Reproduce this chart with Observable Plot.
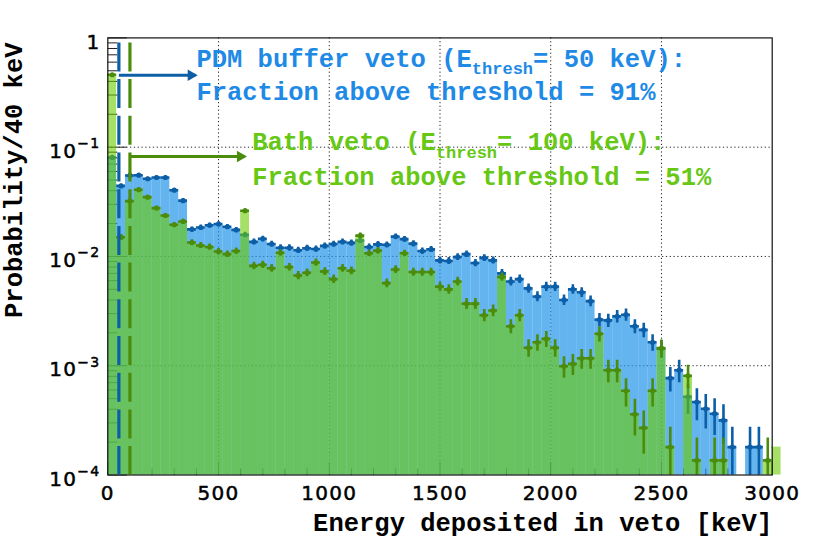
<!DOCTYPE html>
<html><head><meta charset="utf-8">
<script src="https://cdn.jsdelivr.net/npm/d3@7"></script>
<script src="https://cdn.jsdelivr.net/npm/@observablehq/plot@0.6"></script>
<style>body{margin:0;background:#fff}</style>
</head><body><div id="chart"></div>
<script>
// ---- data (probability per 40 keV bin, bin i covers [40*i, 40*(i+1)) keV) ----
const binWidth = 40;
const pdmBufferValues = [
  0.0805, 0.0442, 0.0551, 0.0554, 0.0514, 0.0528, 0.0528, 0.0404, 0.0324, 0.0177,
  0.0184, 0.0193, 0.0198, 0.0187, 0.0175, 0.0158, 0.0136, 0.0145, 0.0130, 0.0120,
  0.0120, 0.0114, 0.0119, 0.0117, 0.0125, 0.0130, 0.0136, 0.0133, 0.0140, 0.0122,
  0.0129, 0.0128, 0.0152, 0.0144, 0.0131, 0.0112, 0.0116, 0.0092, 0.0091, 0.0099,
  0.0105, 0.0087, 0.0097, 0.0092, 0.0070, 0.0059, 0.0062, 0.0051, 0.0043, 0.0053,
  0.0053, 0.0040, 0.0050, 0.0047, 0.0039, 0.00264, 0.0026, 0.00283, 0.00293, 0.0023,
  0.00213, 0.00164, 0.00143, 0.00077, 0.00091, 0.00052, 0.000465, 0.000404, 0.000364, 0.000316,
  0.00018, 0, 0.00018, 0.00018, 0, 0
];
const bathValues = [
  0.46, 0.0150, 0.0321, 0.0408, 0.0349, 0.0277, 0.0237, 0.0195, 0.0209, 0.0134,
  0.0126, 0.0122, 0.0111, 0.0105, 0.0112, 0.0262, 0.0082, 0.0084, 0.0078, 0.0108,
  0.0080, 0.0067, 0.0071, 0.0088, 0.0073, 0.0062, 0.0078, 0.0074, 0.0155, 0.0107,
  0.0113, 0.0057, 0.0076, 0.0107, 0.0072, 0.0072, 0.0072, 0.0053, 0.0050, 0.0059,
  0.0037, 0.0037, 0.0029, 0.0032, 0.0065, 0.0023, 0.0029, 0.00146, 0.00164, 0.00176,
  0.00146, 0.00099, 0.00104, 0.00117, 0.00117, 0.00196, 0.00091, 0.00091, 0.00059, 0.00036,
  0.00027, 0.00059, 0.00145, 0.00018, 0, 0.00081, 0.000136, 0, 0.000136, 0.000136,
  0, 0, 0, 0, 0.000136, 0.00018
];
const errScale = 0.007; // statistical error ~ errScale*sqrt(value)
const pdmThreshold = 50;
const bathThreshold = 100;
const xTickValues = [0, 500, 1000, 1500, 2000, 2500, 3000];
const xTickLabels = ["0", "500", "1000", "1500", "2000", "2500", "3000"];
const yTickValues = [1, 1e-1, 1e-2, 1e-3, 1e-4];
const yTickLabels = ["1", "10^-1", "10^-2", "10^-3", "10^-4"];
const xMinorTicks = d3.range(100, 3000, 100).filter(d => d % 500 !== 0);
const yMinorTicks = [1e-4, 1e-3, 1e-2, 1e-1].flatMap(d => [2,3,4,5,6,7,8,9].map(m => m * d));
const xGrid = [500, 1000, 1500, 2000, 2500];
const yGrid = [1e-1, 1e-2, 1e-3];

// annotations (data coordinates)
const blueNotes = [
  {x: 400, y: 0.547, text: "PDM buffer veto (E_thresh= 50 keV):"},
  {x: 400, y: 0.2674, text: "Fraction above threshold = 91%"}
];
const greenNotes = [
  {x: 652, y: 0.0933, text: "Bath veto (E_thresh= 100 keV):"},
  {x: 652, y: 0.04463, text: "Fraction above threshold = 51%"}
];
const blueArrow = [{x1: pdmThreshold, x2: 396, tip: 406, y: 0.455}];
const greenArrow = [{x1: bathThreshold, x2: 618, tip: 628.5, y: 0.0822}];

// ---- styles ----
const blueFill = "rgb(34,148,234)", blueOpacity = 0.7;
const greenFill = "rgb(107,203,0)", greenOpacity = 0.6;
const blueDark = "#0c5ea6", greenDark = "#4b8c0b";
const blueText = "#1e8ae6", greenText = "#66c814";
const mono = "Liberation Mono, Courier New, monospace";
const sans = "DejaVu Sans, sans-serif";

function toBins(values) {
  return values.map((v, i) => {
    const e = errScale * Math.sqrt(v);
    return {x1: i * binWidth, x2: (i + 1) * binWidth, xc: (i + 0.5) * binWidth, v,
            lo: Math.max(v - e, 1e-7), hi: v + e};
  }).filter(d => d.v > 0);
}
const blueBins = toBins(pdmBufferValues);
const greenBins = toBins(bathValues);

const tickUp = len => ({draw(ctx) { ctx.moveTo(0, 0); ctx.lineTo(0, -len); }});
const tickRight = len => ({draw(ctx) { ctx.moveTo(0, 0); ctx.lineTo(len, 0); }});

function errMarks(bins, color) {
  return [
    Plot.ruleX(bins, {x: "xc", y1: "lo", y2: "hi", stroke: color, strokeWidth: 2.6, clip: true}),
    Plot.ruleY(bins, {y: "v", x1: "x1", x2: "x2", stroke: color, strokeWidth: 2.6, clip: true}),
    Plot.dot(bins, {x: "xc", y: "v", r: 2.6, fill: color, stroke: "none", clip: true})
  ];
}

const chart = Plot.plot({
  width: 830, height: 546,
  marginLeft: 107.3, marginRight: 58.3, marginTop: 37.4, marginBottom: 71.5,
  x: {type: "linear", domain: [0, 3000], axis: null},
  y: {type: "log", domain: [1e-4, 1], axis: null},
  style: {background: "white", overflow: "visible"},
  marks: [
    // grid
    Plot.ruleX(xGrid, {x: d => d, stroke: "#222", strokeWidth: 1, strokeDasharray: "1.2,2.6"}),
    Plot.ruleY(yGrid, {y: d => d, stroke: "#222", strokeWidth: 1, strokeDasharray: "1.2,2.6"}),
    // ticks (inside)
    Plot.dot(xMinorTicks, {x: d => d, frameAnchor: "bottom", symbol: tickUp(6.5), r: 3, stroke: "#222", fill: "none", strokeWidth: 1}),
    Plot.dot(xTickValues, {x: d => d, frameAnchor: "bottom", symbol: tickUp(13), r: 3, stroke: "#222", fill: "none", strokeWidth: 1}),
    Plot.dot(yMinorTicks, {y: d => d, frameAnchor: "left", symbol: tickRight(9.5), r: 3, stroke: "#222", fill: "none", strokeWidth: 1}),
    Plot.dot(yTickValues, {y: d => d, frameAnchor: "left", symbol: tickRight(19), r: 3, stroke: "#222", fill: "none", strokeWidth: 1}),
    // PDM buffer veto histogram
    Plot.rect(blueBins, {x1: "x1", x2: "x2", y1: () => 1e-4, y2: "v", fill: blueFill, fillOpacity: blueOpacity}),
    ...errMarks(blueBins, blueDark),
    // Bath veto histogram
    Plot.rect(greenBins, {x1: "x1", x2: "x2", y1: () => 1e-4, y2: "v", fill: greenFill, fillOpacity: greenOpacity}),
    ...errMarks(greenBins, greenDark),
    Plot.frame({stroke: "#111", strokeWidth: 1.2}),
    // thresholds
    Plot.ruleX([pdmThreshold], {x: d => d, y1: () => 1, y2: () => 1e-4, stroke: blueDark, strokeWidth: 3.2, strokeDasharray: "29,7.7", strokeDashoffset: 31.7}),
    Plot.ruleX([bathThreshold], {x: d => d, y1: () => 1, y2: () => 1e-4, stroke: greenDark, strokeWidth: 3.2, strokeDasharray: "29,7.7", strokeDashoffset: 31.7}),
    // arrows
    Plot.link(blueArrow, {x1: "x1", x2: "x2", y1: "y", y2: "y", stroke: blueDark, strokeWidth: 3}),
    Plot.dot(blueArrow, {x: "tip", y: "y", symbol: "triangle", rotate: 90, r: 4.3, dx: -6.7, fill: blueDark, stroke: "none"}),
    Plot.link(greenArrow, {x1: "x1", x2: "x2", y1: "y", y2: "y", stroke: greenDark, strokeWidth: 3}),
    Plot.dot(greenArrow, {x: "tip", y: "y", symbol: "triangle", rotate: 90, r: 4.3, dx: -6.7, fill: greenDark, stroke: "none"}),
    // annotations
    Plot.text(blueNotes, {x: "x", y: "y", text: "text", textAnchor: "start", lineAnchor: "bottom", fill: blueText, fontFamily: mono, fontWeight: "bold", fontSize: 25.5}),
    Plot.text(greenNotes, {x: "x", y: "y", text: "text", textAnchor: "start", lineAnchor: "bottom", fill: greenText, fontFamily: mono, fontWeight: "bold", fontSize: 25.5}),
    // tick labels
    Plot.text(xTickValues, {x: d => d, text: (d, i) => xTickLabels[i], frameAnchor: "bottom", lineAnchor: "bottom", dy: 24.8, fill: "#000", fontFamily: sans, fontSize: 20}),
    Plot.text(yTickValues, {y: d => d, text: (d, i) => yTickLabels[i], frameAnchor: "left", textAnchor: "end", lineAnchor: "bottom", dx: -7.3, dy: 10.6, fill: "#000", fontFamily: sans, fontSize: 20}),
    // axis titles
    Plot.text(["Energy deposited in veto [keV]"], {text: d => d, frameAnchor: "bottom-right", textAnchor: "end", lineAnchor: "bottom", dy: 55.5, fill: "#000", fontFamily: mono, fontWeight: "bold", fontSize: 25.5}),
    Plot.text(["Probability/40 keV"], {text: d => d, frameAnchor: "top-left", textAnchor: "end", lineAnchor: "bottom", rotate: -90, dx: -85.6, dy: 4.6, fill: "#000", fontFamily: mono, fontWeight: "bold", fontSize: 25.5})
  ]
});

const SVGNS = "http://www.w3.org/2000/svg";
const tickLabelSet = new Set([...xTickLabels, ...yTickLabels]);
chart.querySelectorAll("text").forEach(t => {
  const s = t.textContent;
  if (s.includes("_thresh")) {
    // subscript in annotations
    const [a, b] = s.split("_thresh");
    t.textContent = a;
    const sub = document.createElementNS(SVGNS, "tspan");
    sub.setAttribute("font-size", "17");
    sub.setAttribute("dy", "7.5");
    sub.textContent = "thresh";
    const rest = document.createElementNS(SVGNS, "tspan");
    rest.setAttribute("dy", "-7.5");
    rest.textContent = b;
    t.appendChild(sub); t.appendChild(rest);
  } else if (tickLabelSet.has(s)) {
    t.style.letterSpacing = "1.3px";
    t.style.paintOrder = "stroke";
    t.setAttribute("stroke", "#000");
    t.setAttribute("stroke-width", "0.5");
    if (s.includes("^")) {
      const [base, exp] = s.split("^");
      t.textContent = base;
      const sup = document.createElementNS(SVGNS, "tspan");
      sup.setAttribute("font-size", "14");
      sup.setAttribute("dy", "-9.6");
      sup.textContent = exp.replace("-", "\u2212");
      t.appendChild(sup);
    }
  }
});

document.getElementById("chart").appendChild(chart);
</script>
</body></html>
